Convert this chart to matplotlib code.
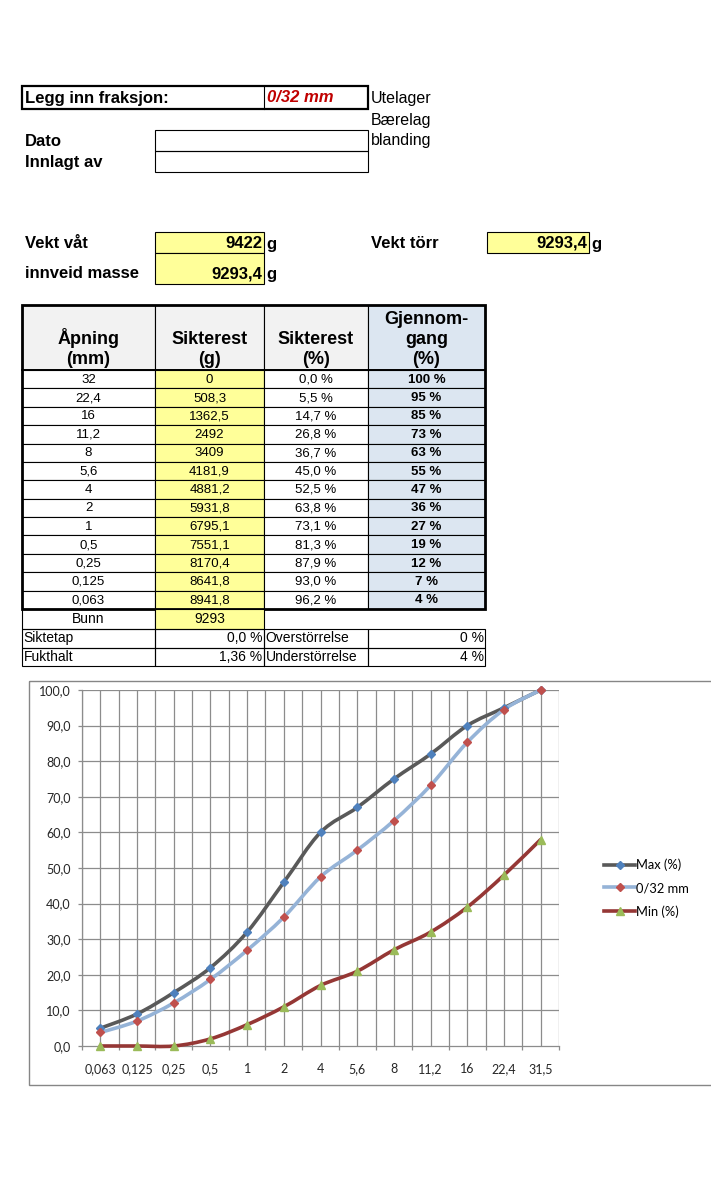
import matplotlib.pyplot as plt
from matplotlib.patches import Rectangle, PathPatch
from matplotlib.path import Path
from matplotlib.lines import Line2D

# ---------------- data ----------------
fraksjon = '0/32 mm'
lager = ['Utelager', 'Bærelag', 'blanding']
vekt_vat = '9422'
vekt_torr = '9293,4'
innveid_masse = '9293,4'

apning = ['32', '22,4', '16', '11,2', '8', '5,6', '4', '2', '1', '0,5', '0,25', '0,125', '0,063']
sikterest_g = ['0', '508,3', '1362,5', '2492', '3409', '4181,9', '4881,2', '5931,8',
               '6795,1', '7551,1', '8170,4', '8641,8', '8941,8']
sikterest_pct = ['0,0 %', '5,5 %', '14,7 %', '26,8 %', '36,7 %', '45,0 %', '52,5 %',
                 '63,8 %', '73,1 %', '81,3 %', '87,9 %', '93,0 %', '96,2 %']
gjennomgang = ['100 %', '95 %', '85 %', '73 %', '63 %', '55 %', '47 %', '36 %',
               '27 %', '19 %', '12 %', '7 %', '4 %']
bunn = '9293'
siktetap = '0,0 %'
fukthalt = '1,36 %'
overstorrelse = '0 %'
understorrelse = '4 %'

sieves = ['0,063', '0,125', '0,25', '0,5', '1', '2', '4', '5,6', '8', '11,2', '16', '22,4', '31,5']
max_pct = [5, 9, 15, 22, 32, 46, 60, 67, 75, 82, 90, 95, 100]
sample_pct = [3.8, 7.0, 12.1, 18.7, 26.9, 36.2, 47.5, 55.0, 63.3, 73.2, 85.3, 94.5, 100]
min_pct = [0, 0, 0, 2, 6, 11, 17, 21, 27, 32, 39, 48, 58]

W, H = 711, 1187
fig = plt.figure(figsize=(W / 100, H / 100), dpi=100)
fig.patch.set_facecolor('white')

# sheet layer in pixel coordinates
bg = fig.add_axes([0, 0, 1, 1])
bg.set_xlim(0, W)
bg.set_ylim(H, 0)
bg.axis('off')

FONT = 'Liberation Sans'
YELLOW = '#FFFF99'
BLUE = '#DCE6F1'


def box(x0, y0, x1, y1, fc='none', lw=0.8, ec='black'):
    bg.add_patch(Rectangle((x0, y0), x1 - x0, y1 - y0, facecolor=fc, edgecolor=ec, lw=lw))


def txt(x, y, s, ha='left', size=9, weight='normal', va='center', **kw):
    bg.text(x, y, s, ha=ha, va=va, fontsize=size, fontweight=weight, family=FONT, **kw)


# ---- top block ----
box(22, 86, 368, 109, lw=1.6)
bg.plot([264, 264], [86, 109], color='black', lw=0.8)
txt(25, 98, 'Legg inn fraksjon:', size=12, weight='bold')
txt(267, 98, fraksjon, size=12, weight='bold', style='italic', color='#C00000')
for s, y in zip(lager, [98, 121, 141]):
    txt(371, y, s, size=11.5)

box(155, 130, 368, 151)
box(155, 151, 368, 172)
txt(25, 141, 'Dato', size=12, weight='bold')
txt(25, 162, 'Innlagt av', size=12, weight='bold')

box(155, 232, 264, 253, fc=YELLOW)
box(155, 253, 264, 284, fc=YELLOW)
box(487, 232, 589, 253, fc=YELLOW)
txt(25, 243, 'Vekt våt', size=12, weight='bold')
txt(25, 274, 'innveid masse', size=12, weight='bold')
txt(371, 243, 'Vekt törr', size=12, weight='bold')
txt(262, 243, vekt_vat, ha='right', size=12, weight='bold')
txt(262, 274, innveid_masse, ha='right', size=12, weight='bold')
txt(587, 243, vekt_torr, ha='right', size=12, weight='bold')
txt(266, 244, 'g', size=12, weight='bold')
txt(266, 275, 'g', size=12, weight='bold')
txt(591, 244, 'g', size=12, weight='bold')

# ---- sieve table ----
cols = [22, 155, 264, 368, 485]
top, hbot = 305, 370
rh = (609 - hbot) / 13
centers = [(cols[i] + cols[i + 1]) / 2 for i in range(4)]

hdr_fc = ['#F2F2F2', '#F2F2F2', '#F2F2F2', BLUE]
headers = ['Åpning\n(mm)', 'Sikterest\n(g)', 'Sikterest\n(%)', 'Gjennom-\ngang\n(%)']
for i in range(4):
    box(cols[i], top, cols[i + 1], hbot, fc=hdr_fc[i], lw=0.8)
    txt(centers[i], hbot - 2, headers[i], ha='center', va='bottom', size=13, weight='bold',
        linespacing=1.22)

body_fc = ['white', YELLOW, 'white', BLUE]
columns = [apning, sikterest_g, sikterest_pct, gjennomgang]
for r in range(13):
    y0 = hbot + r * rh
    for i in range(4):
        box(cols[i], y0, cols[i + 1], y0 + rh, fc=body_fc[i], lw=0.8)
        txt(centers[i], y0 + rh / 2 + 0.5, columns[i][r], ha='center', size=9.5,
            weight='bold' if i == 3 else 'normal')
tbot = hbot + 13 * rh
box(cols[0], top, cols[4], tbot, lw=2.0)
bg.plot([cols[0], cols[4]], [hbot, hbot], color='black', lw=1.4)

# Bunn and summary rows
b0, b1, b2, b3 = tbot, 628.5, 647.5, 666
box(cols[0], b0, cols[1], b1, lw=0.8)
box(cols[1], b0, cols[2], b1, fc=YELLOW, lw=0.8)
txt(centers[0], (b0 + b1) / 2, 'Bunn', ha='center', size=10)
txt(centers[1], (b0 + b1) / 2, bunn, ha='center', size=10)
for (ya, yb), lbl, v1, lbl2, v2 in [((b1, b2), 'Siktetap', siktetap, 'Overstörrelse', overstorrelse),
                                    ((b2, b3), 'Fukthalt', fukthalt, 'Understörrelse', understorrelse)]:
    for i in range(4):
        box(cols[i], ya, cols[i + 1], yb, lw=0.8)
    ym = (ya + yb) / 2
    txt(cols[0] + 1.5, ym, lbl, size=10)
    txt(cols[2] - 1.5, ym, v1, ha='right', size=10)
    txt(cols[2] + 1.5, ym, lbl2, size=10)
    txt(cols[4] - 1.5, ym, v2, ha='right', size=10)

# chart frame
box(29, 681, 730, 1085, ec='#868686', lw=1.0)

# ---------------- chart ----------------
CF = 'Lato'
px0, px1, py0, py1 = 82, 559, 690, 1046
ax = fig.add_axes([px0 / W, 1 - py1 / H, (px1 - px0) / W, (py1 - py0) / H])
ax.set_facecolor('none')
n = len(sieves)
xs = list(range(n))
ax.set_xlim(-0.5, n - 0.5)
ax.set_ylim(0, 100)

grid_c = '#8C8C8C'
for k in range(2 * n + 1):
    ax.axvline(-0.5 + k * 0.5, color=grid_c, lw=0.9, zorder=0)
for v in range(10, 101, 10):
    ax.axhline(v, color=grid_c, lw=0.9, zorder=0)

for sp in ['top', 'right']:
    ax.spines[sp].set_visible(False)
for sp in ['left', 'bottom']:
    ax.spines[sp].set_color(grid_c)
    ax.spines[sp].set_linewidth(0.9)

ax.set_yticks(range(0, 101, 10))
ax.set_yticklabels([f'{v},0' for v in range(0, 101, 10)], fontsize=9, family=CF, color='#262626')
ax.tick_params(axis='y', length=3, width=0.9, color=grid_c, pad=5)
ax.set_xticks(xs)
ax.set_xticklabels(sieves, fontsize=9, family=CF, color='#262626')
ax.tick_params(axis='x', which='major', length=0, pad=12)
ax.set_xticks([-0.5 + k for k in range(n + 1)], minor=True)
ax.tick_params(axis='x', which='minor', length=3, width=0.9, color=grid_c)


def smooth_path(x, y):
    pts = list(zip(x, y))
    verts = [pts[0]]
    codes = [Path.MOVETO]
    for i in range(len(pts) - 1):
        p0 = pts[i - 1] if i > 0 else pts[i]
        p1, p2 = pts[i], pts[i + 1]
        p3 = pts[i + 2] if i + 2 < len(pts) else pts[i + 1]
        c1 = (p1[0] + (p2[0] - p0[0]) / 6, p1[1] + (p2[1] - p0[1]) / 6)
        c2 = (p2[0] - (p3[0] - p1[0]) / 6, p2[1] - (p3[1] - p1[1]) / 6)
        verts += [c1, c2, p2]
        codes += [Path.CURVE4] * 3
    return Path(verts, codes)


series = [
    ('Max (%)', max_pct, '#595959', 'D', '#4F81BD', 4.5),
    (fraksjon, sample_pct, '#95B3D7', 'D', '#C0504D', 4.5),
    ('Min (%)', min_pct, '#953735', '^', '#9BBB59', 6),
]
handles = []
for lbl, vals, lc, mk, mc, ms in series:
    ax.add_patch(PathPatch(smooth_path(xs, vals), fill=False, edgecolor=lc, lw=2.6,
                           capstyle='round', joinstyle='round', zorder=3, clip_on=False))
    ax.plot(xs, vals, linestyle='none', marker=mk, ms=ms, color=mc, mec=mc, zorder=4, clip_on=False)
    handles.append(Line2D([], [], color=lc, lw=2.6, marker=mk, ms=ms, mfc=mc, mec=mc))

fig.legend(handles, [s[0] for s in series], loc='center left', bbox_to_anchor=(604 / W, 1 - 888 / H),
           frameon=False, prop={'family': CF, 'size': 9.3}, handlelength=2.4, handletextpad=0.1,
           labelspacing=0.85, borderpad=0, borderaxespad=0)

fig.savefig('out.png', dpi=100, facecolor='white')
